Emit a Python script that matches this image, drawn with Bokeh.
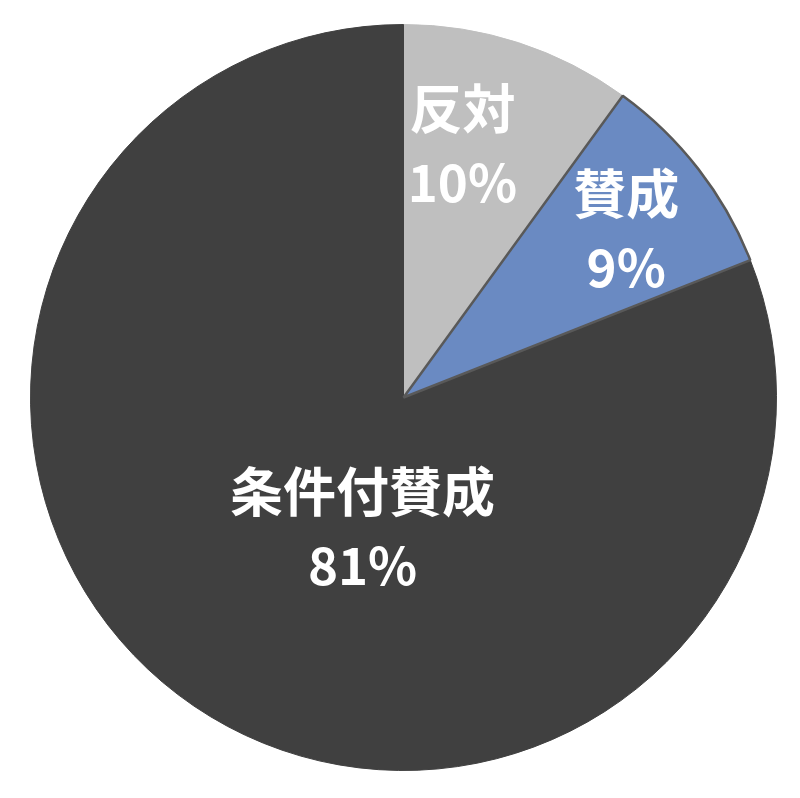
import numpy as np
from bokeh.plotting import figure
from bokeh.models import ColumnDataSource, Range1d
from bokeh.core.properties import value
from bokeh.embed import file_html
from bokeh.resources import INLINE

categories = ["反対", "賛成", "条件付賛成"]
shares = [10, 9, 81]
colors = ["#BFBFBF", "#6A8AC2", "#404040"]
outline = ["#BFBFBF", "#595959", "#404040"]
# label placement (angle from 12 o'clock clockwise in degrees, distance in px)
label_angle = [13.3, 53.5, 197.0]
label_dist = [256, 277, 140]

W, H = 784, 782
cx, cy = 403, H - 397
R = 373

vals = np.array(shares, dtype=float)
frac = vals / vals.sum()
ends = np.cumsum(frac) * 2 * np.pi
starts = ends - frac * 2 * np.pi
# convert clockwise-from-top to bokeh's anticlockwise-from-east
start_b = np.pi / 2 - starts
end_b = np.pi / 2 - ends

src = ColumnDataSource(dict(cat=categories, start=start_b, end=end_b,
                            fill=colors, line=outline))

p = figure(width=W, height=H, output_backend="svg", toolbar_location=None,
           x_range=Range1d(0, W), y_range=Range1d(0, H), min_border=0)
p.axis.visible = False
p.grid.visible = False
p.outline_line_color = None
p.background_fill_color = "white"

p.wedge(x=cx, y=cy, radius=R, start_angle="start", end_angle="end",
        direction="clock", fill_color="fill", line_color="fill",
        line_width=1, source=src)
# outline for the blue slice
p.wedge(x=cx, y=cy, radius=R, start_angle=start_b[1], end_angle=end_b[1],
        direction="clock", fill_color=None, line_color=outline[1], line_width=2.5)

a = np.deg2rad(label_angle)
lx = cx + np.array(label_dist) * np.sin(a)
ly = cy + np.array(label_dist) * np.cos(a)
pct = [f"{s}%" for s in shares]
lsrc = ColumnDataSource(dict(x=lx, y1=ly + 42, y2=ly - 32, name=categories, pct=pct))
p.text(x="x", y="y1", text="name", source=lsrc, text_align="center",
       text_baseline="middle", text_color="white", text_font_size="53px",
       text_font=value("Noto Sans CJK JP"), text_font_style="bold")
p.text(x="x", y="y2", text="pct", source=lsrc, text_align="center",
       text_baseline="middle", text_color="white", text_font_size="51px",
       text_font=value("Noto Sans CJK JP"), text_font_style="bold")

open("out.html", "w").write(file_html(p, INLINE))
